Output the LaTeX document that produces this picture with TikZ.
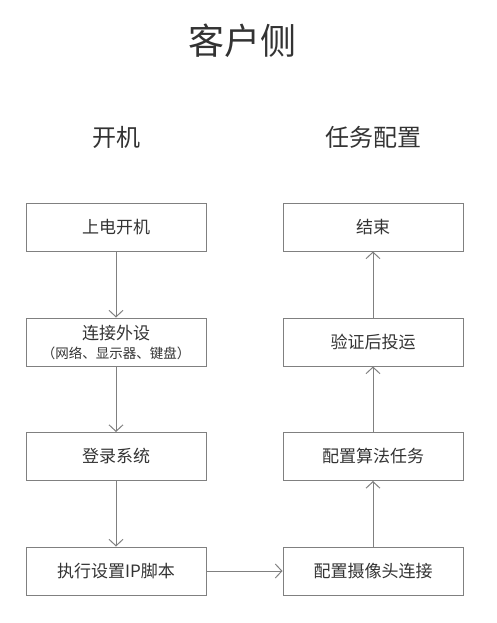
\documentclass[tikz,border=0pt]{standalone}
\usepackage{fontspec}
\setmainfont{Noto Sans CJK SC}
\usetikzlibrary{arrows.meta}

\begin{document}
\begin{tikzpicture}[x=1pt, y=-1pt,
        box/.style={draw=linegray, line width=1pt, minimum width=180pt,
          minimum height=48pt, inner sep=0pt, text=textgray,
          font=\fontsize{17}{20}\selectfont, align=center},
        head/.style={text=textgray, inner sep=0pt},
        flow/.style={draw=linegray, line width=1pt,
          -{Straight Barb[length=6.5pt, width=14pt]}}]
     \definecolor{linegray}{HTML}{808080}
     \definecolor{textgray}{HTML}{333333}
     \useasboundingbox (0,0) rectangle (497,623);
     \node (T) at (242.5,41) [head, font=\fontsize{36}{40}\selectfont] {客户侧};
     \node (L) at (116,137) [head, font=\fontsize{24}{28}\selectfont] {开机};
     \node (R) at (373,137) [head, font=\fontsize{24}{28}\selectfont] {任务配置};
     % left column
     \node (a) at (116,227) [box] {上电开机};
     \node (b) at (116,342) [box] {连接外设\\[-1pt]{\fontsize{13.5}{16}\selectfont （网络、显示器、键盘）}};
     \node (c) at (116,456.5) [box] {登录系统};
     \node (d) at (116,571) [box] {执行设置IP脚本};
     % right column
     \node (e) at (373,227) [box] {结束};
     \node (f) at (373,342) [box] {验证后投运};
     \node (g) at (373,456.5) [box] {配置算法任务};
     \node (h) at (373,571) [box] {配置摄像头连接};
      \draw[flow] (a) -- (b);
      \draw[flow] (b) -- (c);
      \draw[flow] (c) -- (d);
      \draw[flow] (d) -- (h);
      \draw[flow] (h) -- (g);
      \draw[flow] (g) -- (f);
      \draw[flow] (f) -- (e);
    \end{tikzpicture}
\end{document}
